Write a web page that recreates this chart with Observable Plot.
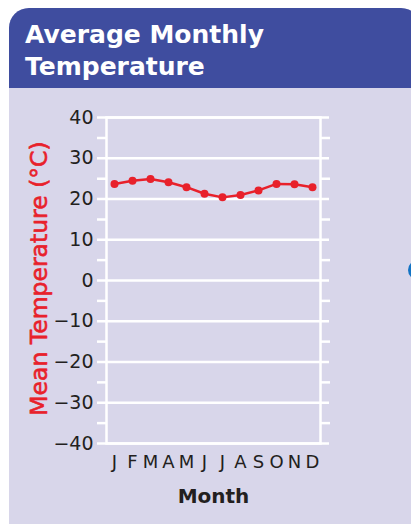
<!DOCTYPE html>
<html>
<head>
<meta charset="utf-8">
<script src="https://cdn.jsdelivr.net/npm/d3@7"></script>
<script src="https://cdn.jsdelivr.net/npm/@observablehq/plot@0.6"></script>
<style>
html, body { margin: 0; padding: 0; width: 411px; height: 524px; overflow: hidden; background: #ffffff; }
#panel { position: absolute; left: 9px; top: 8px; width: 412px; height: 530px; background: #d8d6ea; border-radius: 20px 20px 0 0; overflow: hidden; }
#header { height: 80px; box-sizing: border-box; background: #3f4d9f; color: #ffffff; font-family: "DejaVu Sans", sans-serif; font-weight: bold; font-size: 25px; line-height: 32px; padding: 11px 0 0 16px; }
#chart { position: absolute; left: 0; top: 80px; }
#blob { position: absolute; left: 408px; top: 260px; width: 20px; height: 20px; border-radius: 50%; background: #1273c4; }
</style>
</head>
<body>
<div id="panel">
  <div id="header">Average Monthly<br>Temperature</div>
  <div id="chart"></div>
</div>
<div id="blob"></div>
<script>
const months = ["Jan","Feb","Mar","Apr","May","Jun","Jul","Aug","Sep","Oct","Nov","Dec"];
const monthLabels = ["J","F","M","A","M","J","J","A","S","O","N","D"];
const temps = [23.7, 24.5, 24.9, 24.1, 22.9, 21.3, 20.4, 21.0, 22.1, 23.7, 23.6, 22.9];
const majorTicks = [-40, -30, -20, -10, 0, 10, 20, 30, 40];
const minorTicks = [-35, -25, -15, -5, 5, 15, 25, 35];
const yLabel = "Mean Temperature (°C)";
const xLabel = "Month";

const data = months.map((m, i) => ({month: m, temp: temps[i]}));
const red = "#e8212b";
const ink = "#231f20";

const chart = Plot.plot({
  width: 402,
  height: 436,
  marginLeft: 97,
  marginRight: 91,
  marginTop: 29,
  marginBottom: 81,
  style: {background: "transparent", fontFamily: "DejaVu Sans", overflow: "visible"},
  x: {type: "point", domain: months, padding: 0.38, axis: null},
  y: {domain: [-40, 40], axis: null},
  marks: [
    Plot.ruleY(majorTicks, {stroke: "#ffffff", strokeWidth: 2.5, insetLeft: -9, insetRight: -9}),
    Plot.frame({stroke: "#ffffff", strokeWidth: 2.5}),
    Plot.axisY({anchor: "left", ticks: minorTicks, tickSize: 9, tickFormat: () => "", stroke: "#ffffff", strokeWidth: 2.5, label: null}),
    Plot.axisY({anchor: "right", ticks: minorTicks, tickSize: 9, tickFormat: () => "", stroke: "#ffffff", strokeWidth: 2.5, label: null}),
    Plot.axisY({anchor: "left", ticks: majorTicks, tickSize: 0, tickPadding: 13, fontSize: 19, fill: ink, label: null}),
    Plot.axisX({anchor: "bottom", tickSize: 0, tickPadding: 12, fontSize: 18, fill: ink, label: null,
      tickFormat: (d) => monthLabels[months.indexOf(d)]}),
    Plot.text([xLabel], {frameAnchor: "bottom", textAnchor: "middle", dy: 59, fontSize: 20, fontWeight: "bold", fill: ink}),
    Plot.text([yLabel], {frameAnchor: "left", textAnchor: "middle", rotate: -90, dx: -67.5, dy: -2, fontSize: 23.5, fill: red, stroke: red, strokeWidth: 0.6}),
    Plot.line(data, {x: "month", y: "temp", stroke: red, strokeWidth: 2.5}),
    Plot.dot(data, {x: "month", y: "temp", r: 4, fill: red, stroke: "none"})
  ]
});
document.getElementById("chart").appendChild(chart);
</script>
</body>
</html>
